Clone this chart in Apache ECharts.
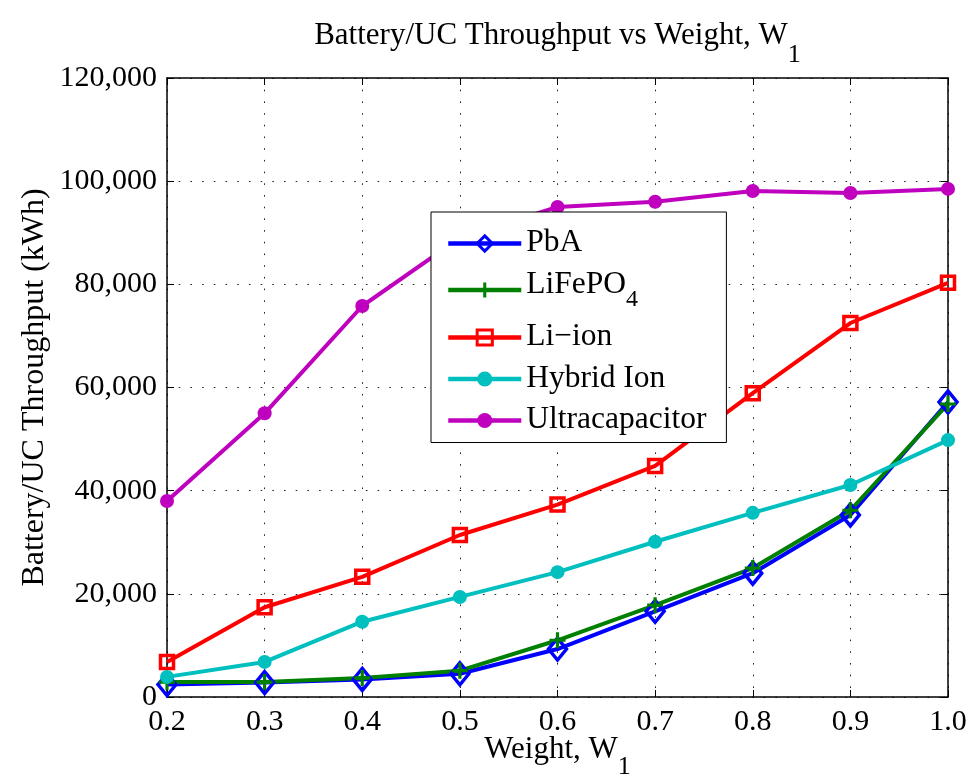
<!DOCTYPE html>
<html>
<head>
<meta charset="utf-8">
<title>Battery/UC Throughput vs Weight</title>
<script src="https://cdn.jsdelivr.net/npm/echarts@6/dist/echarts.min.js"></script>
<style>
  html, body { margin: 0; padding: 0; background: #fff; }
  #chart { width: 973px; height: 782px; }
</style>
</head>
<body>
<div id="chart"></div>
<script>
// Weight W1 on the x axis
const weights = [0.2, 0.3, 0.4, 0.5, 0.6, 0.7, 0.8, 0.9, 1.0];

// Throughput per storage technology (kWh)
const pbA       = [2400, 2800, 3400, 4500, 9300, 16600, 24000, 35300, 57200];
const liFePO4   = [2900, 2900, 3700, 5100, 11000, 17800, 25000, 36200, 56800];
const liIon     = [6800, 17400, 23300, 31400, 37300, 44800, 58900, 72500, 80300];
const hybridIon = [3900, 6800, 14600, 19400, 24200, 30100, 35700, 41100, 49800];
const ultracap  = [38000, 55000, 75800, 89000, 95000, 96000, 98100, 97700, 98500];

const seriesNames = ['PbA', 'LiFePO4', 'Li\u2212ion', 'Hybrid Ion', 'Ultracapacitor'];

// Axis ranges and tick steps
const xMin = 0.2, xMax = 1.0, xStep = 0.1;
const yMin = 0, yMax = 120000, yStep = 20000;

const FONT = '"Liberation Serif", "Times New Roman", Times, serif';
const pairs = ys => weights.map((w, i) => [w, ys[i]]);

const chart = echarts.init(document.getElementById('chart'), null, { renderer: 'canvas' });

const gridDots = { show: true, lineStyle: { color: '#222', width: 1, type: [1.6, 10.1] } };
const boxLine = { show: true, onZero: false, lineStyle: { color: '#000', width: 1.5 } };
const inTicks = { show: true, inside: true, length: 7, lineStyle: { color: '#000', width: 1 } };

// Rich styles for a main run followed by a lowered subscript run:
// the main run hugs the top of the line, the subscript its bottom.
const subRich = (size, subSize, lineH) => ({
  m: { fontFamily: FONT, fontSize: size, color: '#000', verticalAlign: 'top' },
  s: { fontFamily: FONT, fontSize: subSize, color: '#000', lineHeight: lineH, verticalAlign: 'bottom' }
});

function lineSeries(name, data, color, symbol, symbolSize, hollow) {
  return {
    name: name,
    type: 'line',
    data: pairs(data),
    symbol: symbol,
    symbolSize: symbolSize,
    showSymbol: true,
    lineStyle: { color: color, width: 4 },
    itemStyle: hollow
      ? { color: 'rgba(255,255,255,0)', borderColor: color, borderWidth: 3.5 }
      : { color: color, borderWidth: 0 },
    emphasis: { disabled: true },
    animation: false
  };
}

const plusPath = 'path://M4,0H6V4H10V6H6V10H4V6H0V4H4Z';

const option = {
  backgroundColor: '#fff',
  animation: false,
  grid: { left: 167, right: 25, top: 78, bottom: 85, containLabel: false, outerBoundsMode: 'none' },
  graphic: [{
    type: 'text',
    x: 557.5,
    y: 20,
    style: {
      text: '{m|Battery/UC Throughput vs Weight, W}{s|1}',
      align: 'center',
      verticalAlign: 'top',
      rich: subRich(31, 26, 48)
    }
  }],
  xAxis: [{
    type: 'value',
    position: 'bottom',
    min: xMin, max: xMax, interval: xStep,
    axisLine: boxLine,
    axisTick: inTicks,
    axisLabel: {
      show: true, margin: 10, color: '#000', fontFamily: FONT, fontSize: 30,
      showMinLabel: true, showMaxLabel: true,
      formatter: v => v.toFixed(1)
    },
    splitLine: gridDots,
    name: '{m|Weight, W}{s|1}',
    nameLocation: 'middle',
    nameGap: 37,
    nameMoveOverlap: false,
    nameTextStyle: { rich: subRich(31, 26, 46) }
  }, {
    type: 'value',
    position: 'top',
    min: xMin, max: xMax, interval: xStep,
    axisLine: boxLine,
    axisTick: inTicks,
    axisLabel: { show: false },
    splitLine: { show: false }
  }],
  yAxis: [{
    type: 'value',
    position: 'left',
    min: yMin, max: yMax, interval: yStep,
    axisLine: boxLine,
    axisTick: inTicks,
    axisLabel: {
      show: true, margin: 10, color: '#000', fontFamily: FONT, fontSize: 30,
      showMinLabel: true, showMaxLabel: true,
      formatter: v => v.toLocaleString('en-US')
    },
    splitLine: gridDots,
    name: 'Battery/UC Throughput (kWh)',
    nameLocation: 'middle',
    nameGap: 116,
    nameMoveOverlap: false,
    nameTextStyle: { fontFamily: FONT, fontSize: 32, color: '#000' }
  }, {
    type: 'value',
    position: 'right',
    min: yMin, max: yMax, interval: yStep,
    axisLine: boxLine,
    axisTick: inTicks,
    axisLabel: { show: false },
    splitLine: { show: false }
  }],
  legend: {
    orient: 'vertical',
    left: 431,
    top: 212,
    padding: [15, 20, 6.5, 15],
    itemGap: 9.5,
    itemWidth: 73,
    itemHeight: 19,
    backgroundColor: '#fff',
    borderColor: '#000',
    borderWidth: 1,
    borderRadius: 0,
    selectedMode: false,
    lineStyle: { width: 4.5 },
    itemStyle: { borderWidth: 3 },
    data: seriesNames,
    formatter: name => name === 'LiFePO4' ? '{m|LiFePO}{s|4}' : '{m|' + name + '}',
    textStyle: {
      fontFamily: FONT, fontSize: 31.5, color: '#000',
      rich: {
        m: { fontFamily: FONT, fontSize: 31.5, color: '#000', lineHeight: 33, verticalAlign: 'top' },
        s: { fontFamily: FONT, fontSize: 24, color: '#000', lineHeight: 43, verticalAlign: 'bottom' }
      }
    }
  },
  series: [
    lineSeries(seriesNames[0], pbA, '#0000ff', 'diamond', [18, 22], true),
    lineSeries(seriesNames[1], liFePO4, '#008000', plusPath, 16, false),
    lineSeries(seriesNames[2], liIon, '#ff0000', 'rect', 13, true),
    lineSeries(seriesNames[3], hybridIon, '#00bfbf', 'circle', 14, false),
    lineSeries(seriesNames[4], ultracap, '#bf00bf', 'circle', 14, false)
  ]
};

chart.setOption(option);
</script>
</body>
</html>
